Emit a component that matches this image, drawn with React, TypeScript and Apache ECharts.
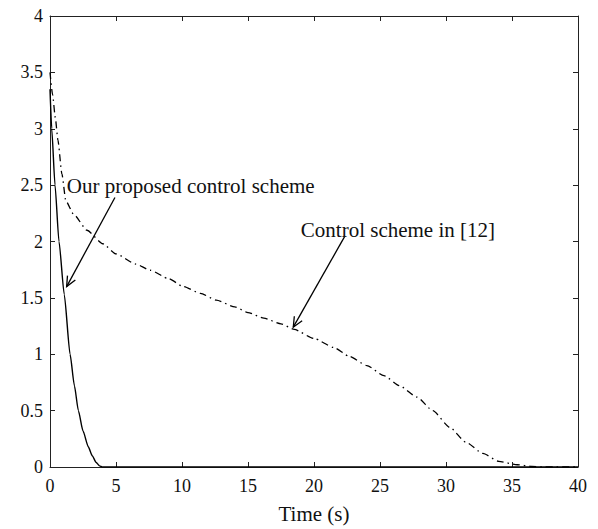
import React, { useEffect, useRef } from "react";
import * as echarts from "echarts";

// Our proposed control scheme (solid)
const proposedT = [0, 0.13, 0.38, 0.68, 1.08, 1.52, 1.85, 2.15, 2.5, 2.9, 3.2, 3.5, 3.75, 3.95, 40];
const proposedY = [3.35, 3.0, 2.5, 2.0, 1.53, 1.0, 0.72, 0.5, 0.32, 0.18, 0.1, 0.04, 0.01, 0, 0];

// Control scheme in [12] (dash-dot)
const refT = [0, 0.2, 0.4, 0.6, 0.9, 1.2, 1.8, 2.8, 4, 5, 6.5, 7.6, 9, 10.1, 11.4, 12.6, 14, 15, 16.2, 17.5, 18.5, 20, 21.5, 22.7, 24, 25.3, 26.5, 27.8, 29, 30.3, 31.5, 32.8, 34, 35.4, 36.5, 37.5, 40];
const refY = [3.5, 3.3, 3.1, 2.9, 2.6, 2.36, 2.24, 2.1, 1.98, 1.89, 1.8, 1.745, 1.67, 1.6, 1.54, 1.48, 1.42, 1.37, 1.32, 1.27, 1.22, 1.14, 1.06, 0.98, 0.9, 0.81, 0.72, 0.62, 0.5, 0.35, 0.22, 0.12, 0.05, 0.02, 0.005, 0, 0];

// Annotation arrows: [fromX, fromY, toX, toY] in data units
const arrows = [
  [4.92, 2.39, 1.26, 1.6],
  [22.35, 2.05, 18.43, 1.24],
];
// Annotation labels: anchor in data units (left, middle)
const labelTexts = ["Our proposed control scheme", "Control scheme in [12]"];
const labelX = [1.27, 19.0];
const labelY = [2.49, 2.105];

const FONT = "'Liberation Serif', 'DejaVu Serif', serif";

export default function App() {
  const ref = useRef<HTMLDivElement>(null);
  useEffect(() => {
    document.body.style.margin = "0";
    const chart = echarts.init(ref.current as HTMLDivElement, null, { renderer: "svg" });
    const axisCommon = {
      type: "value" as const,
      axisLine: { show: true, onZero: false, lineStyle: { color: "#222", width: 1 } },
      axisTick: { show: true, inside: true, length: 5, lineStyle: { color: "#222", width: 1 } },
      splitLine: { show: false },
    };
    const label = { fontSize: 18, color: "#111", fontFamily: FONT };
    chart.setOption({
      animation: false,
      backgroundColor: "#fff",
      grid: { left: 50, right: 20, top: 16, bottom: 62, containLabel: false },
      xAxis: [
        {
          ...axisCommon,
          position: "bottom",
          min: 0,
          max: 40,
          interval: 5,
          axisLabel: { ...label, margin: 10 },
          name: "Time (s)",
          nameLocation: "middle",
          nameGap: 36,
          nameTextStyle: { fontSize: 21, color: "#111", fontFamily: FONT },
        },
        {
          ...axisCommon,
          position: "top",
          min: 0,
          max: 40,
          interval: 5,
          axisLabel: { show: false },
        },
      ],
      yAxis: [
        {
          ...axisCommon,
          position: "left",
          min: 0,
          max: 4,
          interval: 0.5,
          axisLabel: { ...label, margin: 7 },
        },
        {
          ...axisCommon,
          position: "right",
          min: 0,
          max: 4,
          interval: 0.5,
          axisLabel: { show: false },
        },
      ],
      series: [
        {
          type: "line",
          name: "Our proposed control scheme",
          data: proposedT.map((t, i) => [t, proposedY[i]]),
          showSymbol: false,
          smooth: 0.2,
          smoothMonotone: "x",
          lineStyle: { color: "#000", width: 1.4 },
          xAxisIndex: 0,
          yAxisIndex: 0,
        },
        {
          type: "line",
          name: "Control scheme in [12]",
          data: refT.map((t, i) => [t, refY[i]]),
          showSymbol: false,
          smooth: 0.2,
          smoothMonotone: "x",
          lineStyle: { color: "#000", width: 1.3, type: [7, 4, 1.5, 4] },
          xAxisIndex: 0,
          yAxisIndex: 0,
        },
        {
          type: "custom",
          xAxisIndex: 0,
          yAxisIndex: 0,
          clip: false,
          silent: true,
          encode: { x: [0, 2], y: [1, 3] },
          data: arrows,
          renderItem: (params: any, api: any) => {
            const p1 = api.coord([api.value(0), api.value(1)]);
            const p2 = api.coord([api.value(2), api.value(3)]);
            const ang = Math.atan2(p1[1] - p2[1], p1[0] - p2[0]);
            const L = 11;
            const spread = 0.42;
            const a1 = [p2[0] + L * Math.cos(ang + spread), p2[1] + L * Math.sin(ang + spread)];
            const a2 = [p2[0] + L * Math.cos(ang - spread), p2[1] + L * Math.sin(ang - spread)];
            return {
              type: "group",
              children: [
                {
                  type: "line",
                  shape: { x1: p1[0], y1: p1[1], x2: p2[0], y2: p2[1] },
                  style: { stroke: "#000", lineWidth: 1.3 },
                },
                {
                  type: "polyline",
                  shape: { points: [a1, p2, a2] },
                  style: { stroke: "#000", lineWidth: 1.3, fill: null },
                },
              ],
            };
          },
        },
        {
          type: "custom",
          xAxisIndex: 0,
          yAxisIndex: 0,
          clip: false,
          silent: true,
          encode: { x: 0, y: 1 },
          data: labelX.map((x, i) => [x, labelY[i]]),
          renderItem: (params: any, api: any) => {
            const p = api.coord([api.value(0), api.value(1)]);
            return {
              type: "text",
              x: p[0],
              y: p[1],
              style: {
                text: labelTexts[params.dataIndex],
                fill: "#111",
                font: `21px ${FONT}`,
                align: "left",
                verticalAlign: "middle",
              },
            };
          },
        },
      ],
    });
    return () => chart.dispose();
  }, []);
  return <div ref={ref} style={{ width: 598, height: 529 }} />;
}
